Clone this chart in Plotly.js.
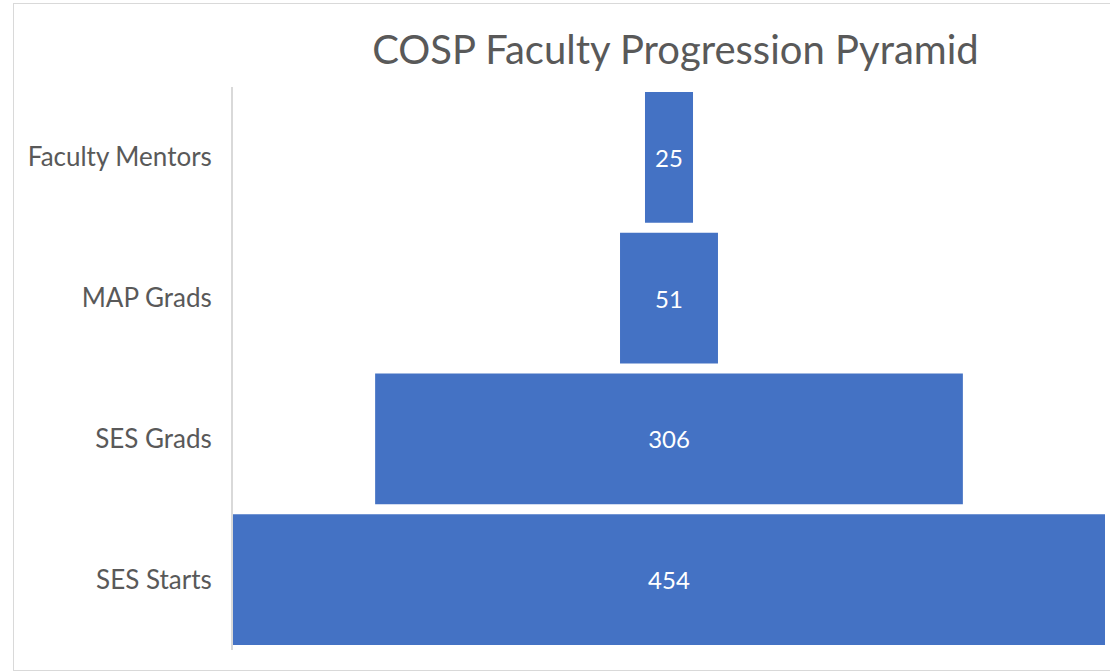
<!DOCTYPE html>
<html>
<head>
<meta charset="utf-8">
<script src="https://cdn.plot.ly/plotly-3.0.1.min.js"></script>
<style>
  html, body { margin: 0; padding: 0; background: #ffffff; }
  #chart { width: 1110px; height: 671px; position: absolute; left: 0; top: 0; }
  #frame { position: absolute; left: 13px; top: 3px; width: 1110px; height: 666px;
           border: 1px solid #d9d9d9; pointer-events: none; }
</style>
</head>
<body>
<div id="chart"></div>
<div id="frame"></div>
<script>
const categories = ["Faculty Mentors", "MAP Grads", "SES Grads", "SES Starts"];
const values = [25, 51, 306, 454];
const chartTitle = "COSP Faculty Progression Pyramid";

const maxVal = Math.max(...values);
const FONT = "Lato, 'Open Sans', sans-serif";

const trace = {
  type: "funnel",
  y: categories,
  x: values,
  textinfo: "value",
  textposition: "inside",
  insidetextfont: { family: FONT, size: 24, color: "#ffffff" },
  marker: { color: "#4472C4", line: { width: 0 } },
  connector: { visible: false },
  hoverinfo: "y+x"
};

const layout = {
  width: 1110,
  height: 671,
  margin: { l: 233, r: 5, t: 87, b: 21 },
  paper_bgcolor: "#ffffff",
  plot_bgcolor: "#ffffff",
  showlegend: false,
  funnelgap: 0.07,
  title: {
    text: chartTitle,
    font: { family: FONT, size: 40, color: "#595959" },
    xref: "container", x: 0.6085, xanchor: "center",
    yref: "container", y: 0.925, yanchor: "middle"
  },
  xaxis: {
    range: [-maxVal / 2, maxVal / 2],
    visible: false,
    fixedrange: true
  },
  yaxis: {
    showline: true,
    linecolor: "#d9d9d9",
    linewidth: 2,
    ticks: "",
    ticklabelstandoff: 14,
    tickfont: { family: FONT, size: 26, color: "#595959" },
    showgrid: false,
    zeroline: false,
    fixedrange: true
  }
};

Plotly.newPlot("chart", [trace], layout, { displayModeBar: false, staticPlot: true });
</script>
</body>
</html>
